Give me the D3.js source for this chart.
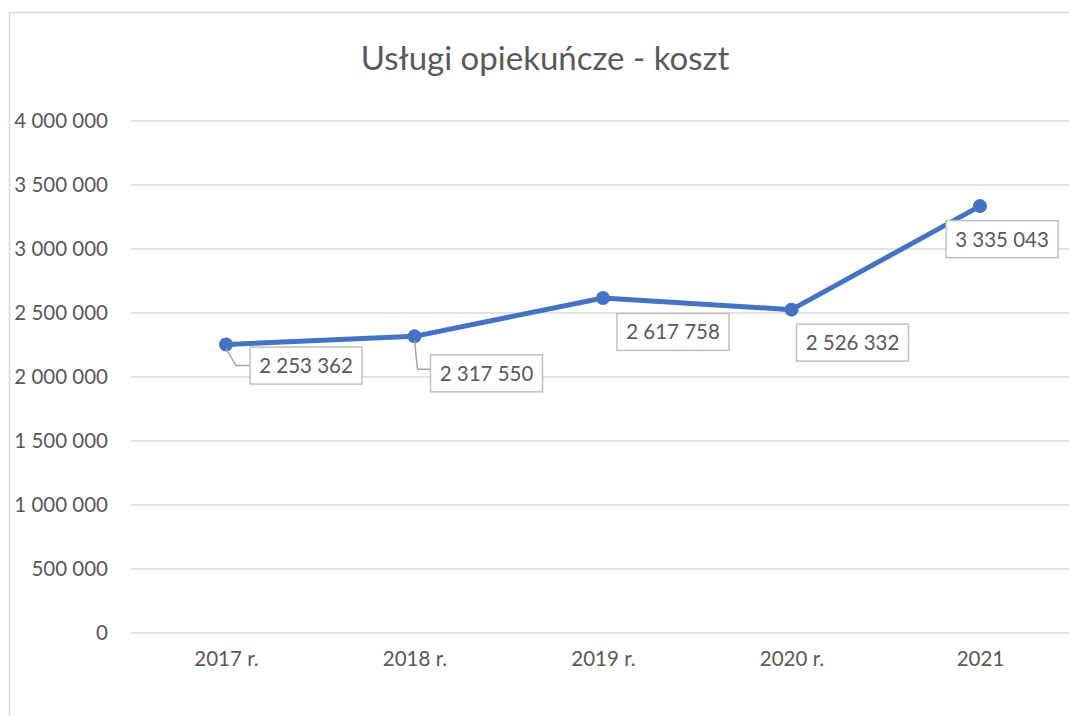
<!DOCTYPE html>
<html>
<head>
<meta charset="utf-8">
<script src="https://cdn.jsdelivr.net/npm/d3@7"></script>
<style>
  body { margin: 0; background: #fff; }
  text { font-family: Lato, "Open Sans", sans-serif; fill: #595959; }
</style>
</head>
<body>
<svg width="1069" height="716"></svg>
<script>
// chart data
var years = ["2017 r.", "2018 r.", "2019 r.", "2020 r.", "2021"];
var costs = [2253362, 2317550, 2617758, 2526332, 3335043];
var yTicks = [0, 500000, 1000000, 1500000, 2000000, 2500000, 3000000, 3500000, 4000000];

var svg = d3.select("svg"),
    width = +svg.attr("width"),
    height = +svg.attr("height");

// outer chart frame (only top and left edge visible)
svg.append("rect")
    .attr("x", 9.5).attr("y", 12.5)
    .attr("width", 1200).attr("height", 1000)
    .attr("fill", "none")
    .attr("stroke", "#d9d9d9")
    .attr("stroke-width", 1.5);

svg.append("text")
    .attr("x", 545).attr("y", 70)
    .attr("text-anchor", "middle")
    .attr("font-size", 33)
    .text("Usługi opiekuńcze - koszt");

var x = d3.scalePoint()
    .domain(years)
    .range([226, 980]);

var y = d3.scaleLinear()
    .domain([0, 4000000])
    .range([633, 121]);

// format with space as thousands separator
var fmt = function(v) { return d3.format(",")(v).replace(/,/g, " "); };

// gridlines
svg.append("g")
  .selectAll("line")
  .data(yTicks)
  .enter().append("line")
    .attr("x1", 131).attr("x2", width)
    .attr("y1", function(d) { return y(d); })
    .attr("y2", function(d) { return y(d); })
    .attr("stroke", "#d9d9d9")
    .attr("stroke-width", 1.5);

// y axis labels
var yAxis = svg.append("g")
    .attr("transform", "translate(108,0)")
    .call(d3.axisLeft(y).tickValues(yTicks).tickSize(0).tickPadding(0).tickFormat(fmt));
yAxis.select(".domain").remove();
yAxis.selectAll("text")
    .attr("font-size", 20.5)
    .attr("font-family", "Lato, sans-serif")
    .attr("fill", "#595959");

// x axis labels
var xAxis = svg.append("g")
    .attr("transform", "translate(0,651)")
    .call(d3.axisBottom(x).tickSize(0).tickPadding(0));
xAxis.select(".domain").remove();
xAxis.selectAll("text")
    .attr("font-size", 20.5)
    .attr("font-family", "Lato, sans-serif")
    .attr("fill", "#595959");

var line = d3.line()
    .x(function(d, i) { return x(years[i]); })
    .y(function(d) { return y(d); });

svg.append("path")
    .datum(costs)
    .attr("fill", "none")
    .attr("stroke", "#4472c4")
    .attr("stroke-width", 5)
    .attr("stroke-linejoin", "round")
    .attr("d", line);

svg.append("g")
  .selectAll("circle")
  .data(costs)
  .enter().append("circle")
    .attr("cx", function(d, i) { return x(years[i]); })
    .attr("cy", function(d) { return y(d); })
    .attr("r", 7)
    .attr("fill", "#4472c4");

// data label placement relative to each point
var labelOffsets = [[80, 21], [72, 37], [70, 34], [61, 33], [22, 33]];
var boxW = 112, boxH = 37;

var labels = svg.append("g")
  .selectAll("g")
  .data(costs)
  .enter().append("g")
    .attr("transform", function(d, i) {
      return "translate(" + (x(years[i]) + labelOffsets[i][0]) + "," + (y(d) + labelOffsets[i][1]) + ")";
    });

// leader lines for the first two labels
labels.filter(function(d, i) { return i < 2; })
  .append("path")
    .attr("fill", "none")
    .attr("stroke", "#a6a6a6")
    .attr("stroke-width", 1.5)
    .attr("d", function(d, i) {
      var dx = labelOffsets[i][0], dy = labelOffsets[i][1];
      return "M" + (-dx) + "," + (-dy + 4) + "L" + (-dx + (i === 0 ? 10 : 3)) + "," + (i === 0 ? 0 : -4) + "L" + (-boxW / 2) + "," + (i === 0 ? 0 : -4);
    });

labels.append("rect")
    .attr("x", -boxW / 2).attr("y", -boxH / 2)
    .attr("width", boxW).attr("height", boxH)
    .attr("fill", "#fff")
    .attr("stroke", "#bfbfbf")
    .attr("stroke-width", 1.5);

labels.append("text")
    .attr("text-anchor", "middle")
    .attr("dy", "0.36em")
    .attr("font-size", 20.5)
    .text(function(d) { return fmt(d); });
</script>
</body>
</html>
